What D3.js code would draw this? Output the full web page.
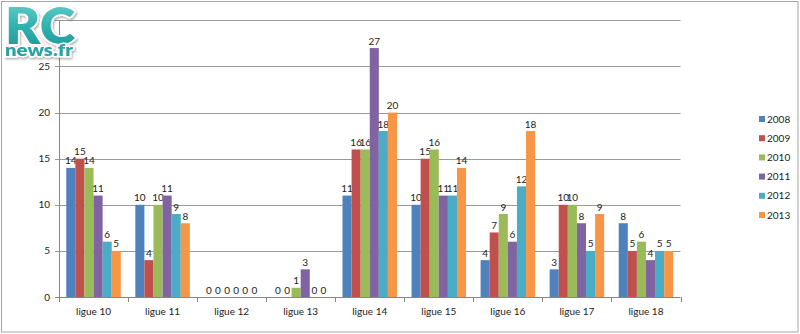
<!DOCTYPE html>
<html><head><meta charset="utf-8">
<script src="https://cdn.jsdelivr.net/npm/d3@7"></script>
<style>body{margin:0;background:#fff}svg{display:block}text{font-family:Lato,"Open Sans",sans-serif}</style>
</head><body><svg id="c" width="800" height="334"></svg>
<script>
const categories = ["ligue 10","ligue 11","ligue 12","ligue 13","ligue 14","ligue 15","ligue 16","ligue 17","ligue 18"];
const seriesNames = ["2008","2009","2010","2011","2012","2013"];
const s2008 = [14,10,0,0,11,10,4,3,8];
const s2009 = [15,4,0,0,16,15,7,10,5];
const s2010 = [14,10,0,1,16,16,9,10,6];
const s2011 = [11,11,0,3,27,11,6,8,4];
const s2012 = [6,9,0,0,18,11,12,5,5];
const s2013 = [5,8,0,0,20,14,18,9,5];
const yTicks = [0,5,10,15,20,25,30];
const colors = ["#4F81BD","#C0504D","#9BBB59","#8064A2","#4BACC6","#F79646"];
const series = [s2008,s2009,s2010,s2011,s2012,s2013];

const svg = d3.select("#c");
svg.append("rect").attr("x",1.5).attr("y",1.5).attr("width",796.5).attr("height",330.5).attr("fill","#fff").attr("stroke","#a6a6a6");

const L=59, R=680.5, T=20.4, B=297;
const x = d3.scaleBand().domain(categories).range([L,R]);
const xs = d3.scaleBand().domain(seriesNames).range([0,x.bandwidth()]).paddingOuter(0.8);
const y = d3.scaleLinear().domain([0,30]).range([B,T]);

// gridlines
svg.append("g").selectAll("line").data(yTicks).join("line")
  .attr("x1",L-4).attr("x2",R).attr("y1",d=>Math.round(y(d))+0.5).attr("y2",d=>Math.round(y(d))+0.5)
  .attr("stroke",d=>d===0?"#868686":"#9a9a9a");
svg.append("g").selectAll("text").data(yTicks.filter(d=>d<30)).join("text")
  .attr("x",50).attr("y",d=>y(d)+3.5).attr("text-anchor","end").attr("font-size",10).attr("fill","#222").text(d=>d);
svg.append("line").attr("x1",L+0.5).attr("x2",L+0.5).attr("y1",T).attr("y2",B).attr("stroke","#868686");
// x ticks
const xb = categories.map(c=>x(c)).concat([R]);
svg.append("g").selectAll("line").data(xb).join("line")
  .attr("x1",d=>Math.round(d)+0.5).attr("x2",d=>Math.round(d)+0.5).attr("y1",B).attr("y2",B+5).attr("stroke","#868686");

// bars
series.forEach((s,i)=>{
  const g = svg.append("g");
  g.selectAll("rect").data(s).join("rect")
    .attr("x",(d,j)=>x(categories[j])+xs(seriesNames[i]))
    .attr("width",xs.bandwidth())
    .attr("y",d=>y(d)).attr("height",d=>B-y(d)).attr("fill",colors[i]);
  g.selectAll("text").data(s).join("text")
    .attr("x",(d,j)=>x(categories[j])+xs(seriesNames[i])+xs.bandwidth()/2)
    .attr("y",d=>y(d)-3.5).attr("text-anchor","middle").attr("font-size",10).attr("fill","#222").text(d=>d);
});
// category labels
svg.append("g").selectAll("text").data(categories).join("text")
  .attr("x",d=>x(d)+x.bandwidth()/2).attr("y",315).attr("text-anchor","middle").attr("font-size",10).attr("fill","#222").text(d=>d);

// legend
const lg = svg.append("g");
seriesNames.forEach((n,i)=>{
  const yy = 119 + i*19.2;
  lg.append("rect").attr("x",759).attr("y",yy-3).attr("width",6).attr("height",6).attr("fill",colors[i]);
  lg.append("text").attr("x",767).attr("y",yy+3.5).attr("font-size",10).attr("fill","#222").text(n);
});

// logo
const logo = svg.append("g");
const defs = svg.append("defs");
const grad = defs.append("linearGradient").attr("id","lg").attr("x1",0).attr("y1",0).attr("x2",0).attr("y2",1);
grad.append("stop").attr("offset","0%").attr("stop-color","#6fd6cf");
grad.append("stop").attr("offset","55%").attr("stop-color","#2fb0ad");
grad.append("stop").attr("offset","100%").attr("stop-color","#1a9494");
const f = defs.append("filter").attr("id","sh").attr("x","-10%").attr("y","-10%").attr("width","130%").attr("height","140%");
f.append("feDropShadow").attr("dx",1).attr("dy",1.5).attr("stdDeviation",1).attr("flood-color","#000").attr("flood-opacity",0.35);
logo.attr("filter","url(#sh)");
logo.append("text").attr("x",5).attr("y",44).attr("font-family","'Open Sans',sans-serif").attr("font-weight",800)
  .attr("font-size",51).attr("textLength",70).attr("lengthAdjust","spacingAndGlyphs")
  .attr("fill","url(#lg)").attr("stroke","#fff").attr("stroke-width",3.5).attr("paint-order","stroke").text("RC");
logo.append("text").attr("x",5).attr("y",56).attr("font-family","'Open Sans',sans-serif").attr("font-weight",800)
  .attr("font-size",17).attr("textLength",68).attr("lengthAdjust","spacingAndGlyphs")
  .attr("fill","#2aa3a3").attr("stroke","#fff").attr("stroke-width",3).attr("paint-order","stroke").text("news.fr");
</script></body></html>
